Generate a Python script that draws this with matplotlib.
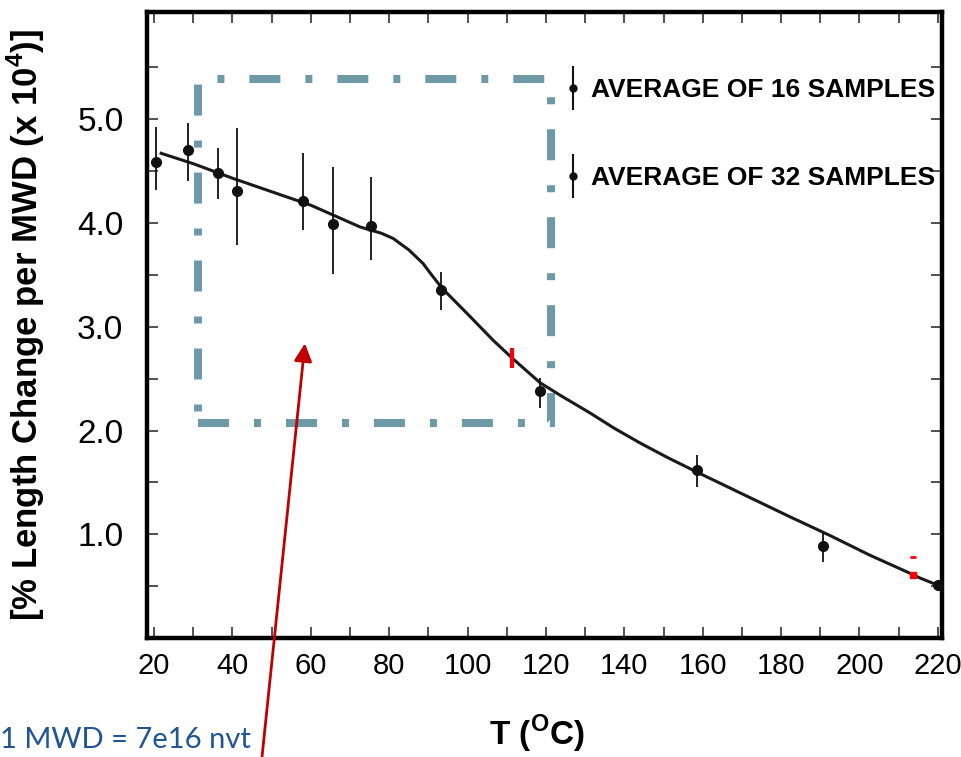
import matplotlib
matplotlib.use('Agg')
import matplotlib.pyplot as plt
from matplotlib.lines import Line2D
from matplotlib.patches import Rectangle
from matplotlib.legend_handler import HandlerTuple

plt.rcParams['mathtext.fontset'] = 'custom'
plt.rcParams['mathtext.rm'] = 'Liberation Sans'
plt.rcParams['mathtext.bf'] = 'Liberation Sans:bold'

SANS = 'Liberation Sans'

# measured points with error bars
temp = [20.5, 28.7, 36.3, 41.2, 58.0, 65.7, 75.4, 93.2, 118.5, 158.5, 190.7, 220.0]
change = [4.59, 4.70, 4.48, 4.31, 4.21, 3.99, 3.97, 3.35, 2.38, 1.62, 0.89, 0.51]
err_hi = [4.92, 4.96, 4.72, 4.91, 4.67, 4.54, 4.44, 3.53, 2.51, 1.76, 1.01, 0.56]
err_lo = [4.32, 4.40, 4.23, 3.79, 3.93, 3.51, 3.64, 3.16, 2.22, 1.46, 0.73, 0.47]

# fitted curve
curve_t = [21.8, 30, 40, 50, 60, 66, 72.6, 78, 81, 85, 88.6, 91, 93.5, 99.8, 106.5, 111.3,
           118.5, 123.6, 131.2, 137.5, 144, 151, 158.5, 169.5, 182.2, 192.4, 202.6, 212,
           215.4, 220]
curve_y = [4.67, 4.57, 4.43, 4.30, 4.17, 4.07, 3.96, 3.90, 3.85, 3.74, 3.61, 3.49, 3.37, 3.13,
           2.87, 2.70, 2.46, 2.34, 2.17, 2.02, 1.88, 1.74, 1.60, 1.40, 1.17, 0.99, 0.80, 0.64,
           0.58, 0.51]

# small red marks on the curve
red_bar = (111.3, 2.70)
red_sq = (213.6, 0.61)
red_dash = (213.6, 0.78)

# highlighted region
box_t = (31.2, 121.3)
box_y = (2.07, 5.39)
arrow_tip = (58.5, 2.84)

legend_labels = ['AVERAGE OF 16 SAMPLES', 'AVERAGE OF 32 SAMPLES']

fig = plt.figure(figsize=(9.61, 7.57), dpi=100)
ax = fig.add_axes([0.153, 0.157, 0.827, 0.827])

lo = [c - l for c, l in zip(change, err_lo)]
hi = [h - c for c, h in zip(change, err_hi)]
ax.errorbar(temp, change, yerr=[lo, hi], fmt='o', color='#111111', ms=7,
            elinewidth=1.3, capsize=0, zorder=4)
ax.plot(curve_t, curve_y, color='#1a1a1a', lw=2.2, zorder=3)

ax.plot(*red_bar, marker='|', color='#ff0000', ms=15, mew=3, zorder=5)
ax.plot(*red_sq, marker='s', color='#ff0000', ms=5, zorder=5)
ax.plot(*red_dash, marker='_', color='#ff0000', ms=4, mew=2, zorder=5)

ax.add_patch(Rectangle((box_t[0], box_y[0]), box_t[1] - box_t[0], box_y[1] - box_y[0],
                       fill=False, ec='#6e9aa8', lw=5.8, capstyle='butt',
                       linestyle=(0, (3.85, 3.1, 0.87, 3.1)), zorder=2))

ax.annotate('', xy=arrow_tip, xycoords='data', xytext=(262 / 961, 0.0),
            textcoords='figure fraction', annotation_clip=False,
            arrowprops=dict(arrowstyle='-|>', color='#c00000', lw=2,
                            mutation_scale=27, shrinkA=0, shrinkB=0))

ax.set_xlim(18.2, 221)
ax.set_ylim(0, 6.03)
ax.set_xticks(range(20, 221, 20))
ax.set_xticks(range(30, 221, 20), minor=True)
ax.set_yticks([1, 2, 3, 4, 5])
ax.set_yticklabels(['1.0', '2.0', '3.0', '4.0', '5.0'])
ax.set_yticks([0.5, 1.5, 2.5, 3.5, 4.5, 5.5], minor=True)
ax.tick_params(which='both', direction='in', top=True, right=True,
               length=8, width=1.2, color='#333333')
ax.tick_params(axis='y', pad=17, labelsize=24)
ax.tick_params(axis='x', pad=10, labelsize=21)
for lab in ax.get_xticklabels() + ax.get_yticklabels():
    lab.set_family(SANS)
for s in ax.spines.values():
    s.set_linewidth(3.2)

ax.set_ylabel(r'[% Length Change per MWD (x 10$^\mathbf{4}$)]', fontsize=25,
              fontweight='bold', family=SANS)
ax.yaxis.set_label_coords(-0.126, 0.5)
ax.set_xlabel(r'T ($^\mathbf{O}$C)', fontsize=24, fontweight='bold',
              family=SANS, va='top')
ax.xaxis.set_label_coords(0.49, -0.12)

handles = []
for _ in legend_labels:
    bar = Line2D([], [], marker='|', ms=31, mew=1.5, color='#111111', ls='none')
    dot = Line2D([], [], marker='o', ms=5, color='#111111', ls='none')
    handles.append((bar, dot))
ax.legend(handles, legend_labels, handler_map={tuple: HandlerTuple(ndivide=1)},
          loc='upper left', bbox_to_anchor=(0.522, 0.895), frameon=False,
          borderpad=0, borderaxespad=0, handlelength=0.85, handletextpad=0.25,
          labelspacing=2.45, prop={'family': SANS, 'weight': 'bold', 'size': 19})

fig.text(0.0, (757 - 740) / 757, '1 MWD = 7e16 nvt', color='#1f5496',
         fontsize=21, family='Lato', ha='left', va='center')

fig.savefig('out.png', dpi=100)
